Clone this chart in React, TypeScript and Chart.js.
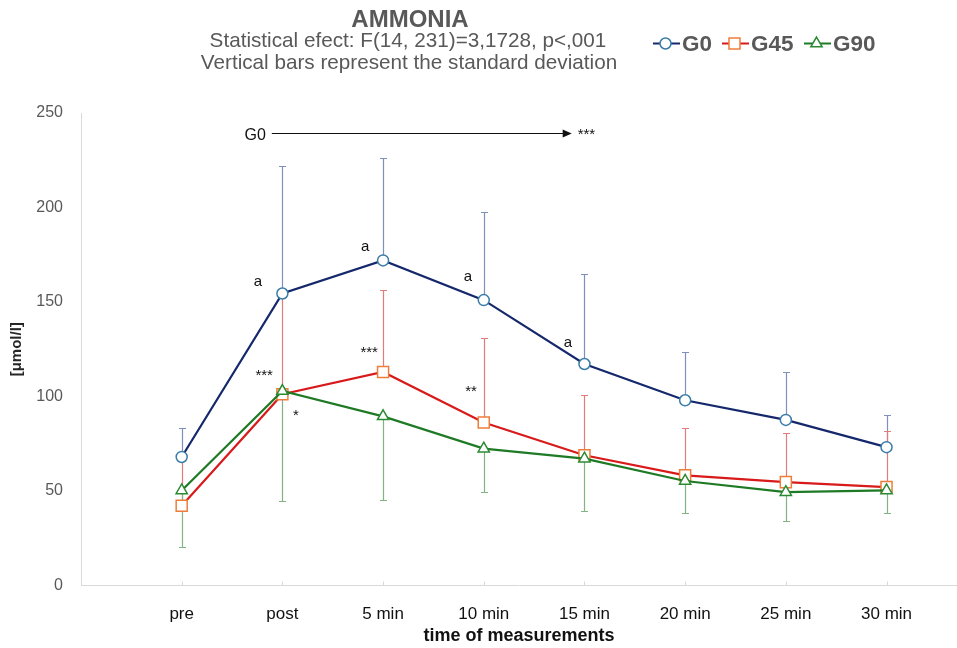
import React, { useEffect, useRef } from 'react';
import { Chart, registerables } from 'chart.js';

Chart.register(...registerables);

// ---------- data ----------
const categories = ['pre', 'post', '5 min', '10 min', '15 min', '20 min', '25 min', '30 min'];
const seriesNames = ['G0', 'G45', 'G90'];
const g0Mean = [68, 154.5, 172, 151, 117.2, 98, 87.6, 73.2];
const g0Sd = [15.2, 67.3, 54.4, 46.8, 47.7, 25.6, 25.2, 17];
const g45Mean = [42.2, 101.2, 113, 86.2, 68.9, 58.3, 54.7, 52.1];
const g45Sd = [24, 51, 43.1, 44.8, 32.1, 25.2, 26, 29.8];
const g90Mean = [50.3, 102.9, 89.5, 72.4, 67.1, 55.3, 49.4, 50.3];
const g90Sd = [30, 58.3, 44.3, 22.9, 27.7, 17, 15.5, 12];
const yTicks = [0, 50, 100, 150, 200, 250];

// annotation marks (x in category units, y in data units)
const annotationTexts = ['a', 'a', 'a', 'a', '***', '*', '***', '**'];
const annotationX = [0.757, 1.822, 2.842, 3.835, 0.819, 1.134, 1.862, 2.873];
const annotationY = [160.4, 179.3, 163.1, 128.5, 111.9, 90.7, 123.9, 103.4];
const arrowLabel = 'G0';
const arrowStars = '***';
const arrowFrom = 0.895;
const arrowTo = 3.873;
const arrowValue = 239.3;

const titleText = 'AMMONIA';
const subtitleLines = ['Statistical efect: F(14, 231)=3,1728, p<,001', 'Vertical bars represent the standard deviation'];

// ---------- styles ----------
const SANS = '"Liberation Sans", Arial, sans-serif';
const means = [g0Mean, g45Mean, g90Mean];
const sds = [g0Sd, g45Sd, g90Sd];
const errDir = [1, 1, -1];
const lineColors = ['#15286c', '#d81a1a', '#1f7a25'];
const markerColors = ['#3a7ca8', '#ee7d3a', '#2a8a32'];
const barColors = ['#7f90bd', '#e27c7c', '#82b385'];
const pointStyles = ['circle', 'rect', 'triangle'];
const pointRadii = [5.5, 7.8, 6.5];
const drawOrder = [2, 1, 0];

function drawMarker(ctx: CanvasRenderingContext2D, style: string, x: number, y: number, r: number) {
  ctx.beginPath();
  if (style === 'circle') {
    ctx.arc(x, y, r, 0, Math.PI * 2);
  } else if (style === 'rect') {
    const s = r * Math.SQRT1_2;
    ctx.rect(x - s, y - s, 2 * s, 2 * s);
  } else {
    const w = Math.sin((2 * Math.PI) / 3) * r;
    ctx.moveTo(x, y - r);
    ctx.lineTo(x + w, y + r / 2);
    ctx.lineTo(x - w, y + r / 2);
    ctx.closePath();
  }
  ctx.fill();
  ctx.stroke();
}

const errorBarPlugin = {
  id: 'errorBars',
  beforeDatasetsDraw(chart: any) {
    const { ctx, scales } = chart;
    const x = scales.x;
    const y = scales.y;
    means.forEach((m, s) => {
      ctx.save();
      ctx.strokeStyle = barColors[s];
      ctx.lineWidth = 1.2;
      m.forEach((v, i) => {
        const px = Math.round(x.getPixelForValue(i)) + 0.5;
        const y0 = y.getPixelForValue(v);
        const y1 = Math.round(y.getPixelForValue(v + errDir[s] * sds[s][i])) + 0.5;
        ctx.beginPath();
        ctx.moveTo(px, y0);
        ctx.lineTo(px, y1);
        ctx.moveTo(px - 3.5, y1);
        ctx.lineTo(px + 3.5, y1);
        ctx.stroke();
      });
      ctx.restore();
    });
  },
};

const decorPlugin = {
  id: 'decor',
  afterDraw(chart: any) {
    const { ctx, scales, chartArea } = chart;
    const x = scales.x;
    const y = scales.y;
    ctx.save();
    // inner tick marks on x axis
    ctx.strokeStyle = '#d9d9d9';
    ctx.lineWidth = 1;
    categories.forEach((_, i) => {
      const px = Math.round(x.getPixelForValue(i)) + 0.5;
      ctx.beginPath();
      ctx.moveTo(px, chartArea.bottom);
      ctx.lineTo(px, chartArea.bottom - 4);
      ctx.stroke();
    });

    // header
    ctx.fillStyle = '#595959';
    ctx.textAlign = 'center';
    ctx.textBaseline = 'alphabetic';
    ctx.font = `bold 24px ${SANS}`;
    ctx.fillText(titleText, 410, 27);
    ctx.font = `20.7px ${SANS}`;
    ctx.fillText(subtitleLines[0], 408, 47);
    ctx.fillText(subtitleLines[1], 409, 69);

    // legend
    const legendX = [653, 722, 804];
    const legendY = 43.5;
    seriesNames.forEach((name, s) => {
      const lx = legendX[s];
      ctx.strokeStyle = lineColors[s];
      ctx.lineWidth = 2;
      ctx.beginPath();
      ctx.moveTo(lx, legendY);
      ctx.lineTo(lx + 27, legendY);
      ctx.stroke();
      ctx.fillStyle = '#ffffff';
      ctx.strokeStyle = markerColors[s];
      ctx.lineWidth = 1.5;
      drawMarker(ctx, pointStyles[s], lx + 12.5, legendY, pointRadii[s]);
      ctx.fillStyle = '#595959';
      ctx.font = `bold 22.5px ${SANS}`;
      ctx.textAlign = 'left';
      ctx.fillText(name, lx + 29, 51);
    });

    // annotations
    ctx.fillStyle = '#111111';
    ctx.font = `15px ${SANS}`;
    ctx.textAlign = 'center';
    annotationTexts.forEach((t, i) => {
      const px = x.getPixelForValue(annotationX[i]);
      const py = y.getPixelForValue(annotationY[i]);
      const off = t.includes('*') ? 0.38 * 15 : 0.27 * 15;
      ctx.fillText(t, px, py + off);
    });

    // top arrow
    const ay = Math.round(y.getPixelForValue(arrowValue)) + 0.5;
    const ax0 = x.getPixelForValue(arrowFrom);
    const ax1 = x.getPixelForValue(arrowTo);
    ctx.strokeStyle = '#111111';
    ctx.lineWidth = 1.2;
    ctx.beginPath();
    ctx.moveTo(ax0, ay);
    ctx.lineTo(ax1 - 8, ay);
    ctx.stroke();
    ctx.beginPath();
    ctx.moveTo(ax1, ay);
    ctx.lineTo(ax1 - 9, ay - 4);
    ctx.lineTo(ax1 - 9, ay + 4);
    ctx.closePath();
    ctx.fill();
    ctx.textAlign = 'right';
    ctx.font = `16px ${SANS}`;
    ctx.fillText(arrowLabel, ax0 - 6, ay + 6);
    ctx.textAlign = 'left';
    ctx.font = `15px ${SANS}`;
    ctx.fillText(arrowStars, ax1 + 6, ay + 0.38 * 15);
    ctx.restore();
  },
};

export default function App() {
  const canvasRef = useRef<HTMLCanvasElement | null>(null);

  useEffect(() => {
    document.body.style.margin = '0';
    const canvas = canvasRef.current;
    if (!canvas) return;
    const datasets = seriesNames.map((name, s) => ({
      label: name,
      data: means[s].map((v, i) => ({ x: i, y: v })),
      borderColor: lineColors[s],
      borderWidth: 2.2,
      pointStyle: pointStyles[s],
      pointRadius: pointRadii[s],
      pointBorderColor: markerColors[s],
      pointBackgroundColor: '#ffffff',
      pointBorderWidth: 1.5,
      tension: 0,
      fill: false,
      order: drawOrder[s],
    }));
    const chart = new Chart(canvas, {
      type: 'line',
      data: { datasets },
      plugins: [errorBarPlugin, decorPlugin],
      options: {
        responsive: false,
        animation: false,
        devicePixelRatio: 1,
        layout: { autoPadding: false, padding: { top: 113, right: 0, bottom: 0, left: 0 } },
        plugins: {
          legend: { display: false },
          title: { display: false },
          tooltip: { enabled: false },
        },
        scales: {
          x: {
            type: 'linear',
            min: -1,
            max: 7.7,
            afterFit: (s: any) => { s.height = 62.5; },
            afterBuildTicks: (s: any) => { s.ticks = categories.map((_, i) => ({ value: i })); },
            grid: { display: false, drawTicks: false },
            border: { display: true, color: '#d9d9d9', width: 1 },
            ticks: {
              autoSkip: false,
              maxRotation: 0,
              padding: 19,
              color: '#111111',
              font: { family: SANS, size: 17 },
              callback: (v: any) => categories[v] ?? '',
            },
            title: {
              display: true,
              text: 'time of measurements',
              color: '#111111',
              font: { family: SANS, size: 18, weight: 'bold' },
              padding: { top: 0, bottom: 1 },
            },
          },
          y: {
            type: 'linear',
            min: 0,
            max: 250,
            afterFit: (s: any) => { s.width = 81; },
            afterBuildTicks: (s: any) => { s.ticks = yTicks.map((v) => ({ value: v })); },
            grid: { display: false, drawTicks: false },
            border: { display: true, color: '#d9d9d9', width: 1 },
            ticks: {
              padding: 18,
              color: '#595959',
              font: { family: SANS, size: 16 },
            },
            title: {
              display: true,
              text: '[μmol/l]',
              color: '#262626',
              font: { family: SANS, size: 15, weight: 'bold' },
              padding: { top: 8, bottom: 0 },
            },
          },
        },
      } as any,
    });
    return () => chart.destroy();
  }, []);

  return (
    <div style={{ position: 'absolute', left: 0, top: 0, width: 957, height: 648, background: '#fff' }}>
      <canvas ref={canvasRef} width={957} height={648} style={{ display: 'block' }} />
    </div>
  );
}
